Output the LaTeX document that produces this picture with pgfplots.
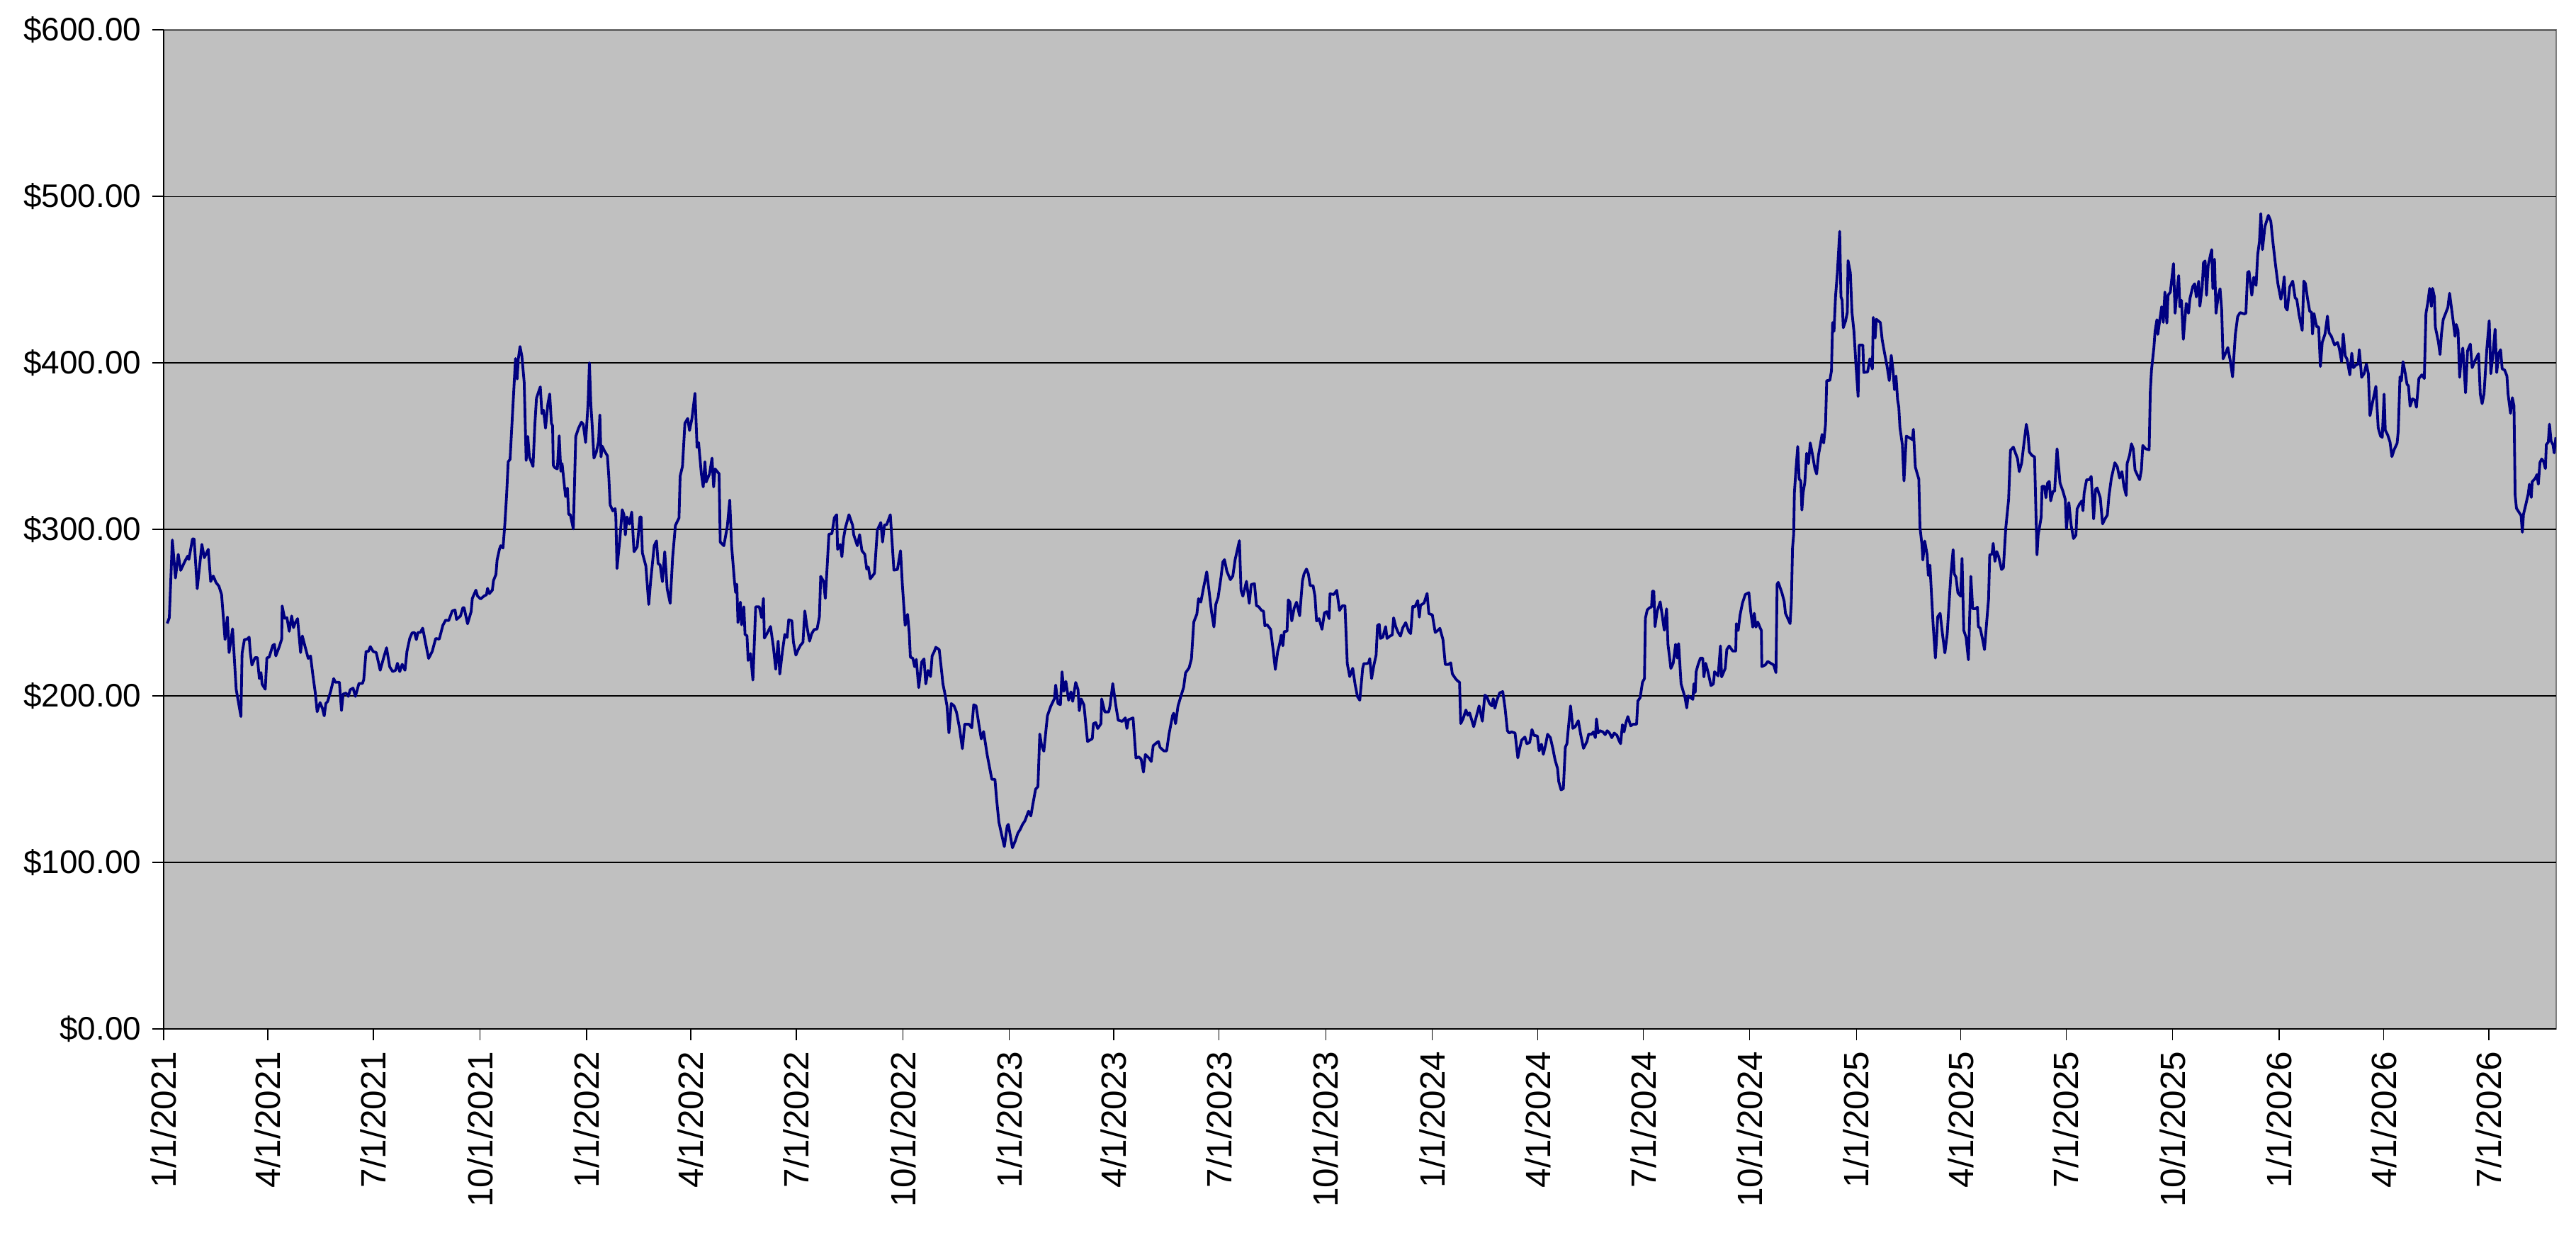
\documentclass[border=0pt]{standalone}
\usepackage{fontspec}
\setmainfont{Liberation Sans}
\usepackage{pgfplots}
\pgfplotsset{compat=1.18}
\definecolor{navyline}{RGB}{0,0,128}
\definecolor{plotbg}{RGB}{192,192,192}
\definecolor{framegray}{RGB}{128,128,128}
\begin{document}
\begin{tikzpicture}
\begin{axis}[
  at={(0,0)}, anchor=south west,
  scale only axis,
  width=750.44pt, height=313.33pt,
  xmin=0, xmax=2065, ymin=0, ymax=600,
  axis line style={draw=none},
  axis background/.style={fill=plotbg, draw=framegray, line width=0.6pt},
  ymajorgrids, grid style={black, line width=0.25pt},
  tick pos=left, tick align=outside, major tick length=3.5pt,
  tick style={black, line width=0.3pt},
  clip mode=individual,
  ytick={0,100,200,300,400,500,600},
  yticklabels={\$0.00,\$100.00,\$200.00,\$300.00,\$400.00,\$500.00,\$600.00},
  xtick={0,90,181,273,365,455,546,638,730,820,911,1003,1095,1186,1277,1369,1461,1551,1642,1734,1826,1916,2007},
  xticklabels={1/1/2021,4/1/2021,7/1/2021,10/1/2021,1/1/2022,4/1/2022,7/1/2022,10/1/2022,1/1/2023,4/1/2023,7/1/2023,10/1/2023,1/1/2024,4/1/2024,7/1/2024,10/1/2024,1/1/2025,4/1/2025,7/1/2025,10/1/2025,1/1/2026,4/1/2026,7/1/2026},
  xticklabel style={rotate=90, anchor=east, font=\fontsize{11}{13}\selectfont},
  yticklabel style={font=\fontsize{10.2}{12}\selectfont},
]
\addplot[navyline, line width=0.85pt, line join=round, mark=none] table[x=d,y=v] {
d v
3.1 243.5
4.9 247.0
7.5 293.6
10.2 270.8
12.6 285.0
14.7 275.4
18.8 281.5
20.8 284.0
21.8 282.0
24.9 294.3
26.3 294.3
29.0 264.4
33.0 291.0
35.1 283.0
38.5 288.0
40.6 268.7
42.8 272.0
45.3 268.0
47.7 265.9
50.0 260.9
53.0 233.9
55.0 247.4
56.5 226.0
59.5 240.3
62.6 204.0
66.7 187.6
67.7 225.5
69.7 233.8
72.2 234.1
73.8 235.3
74.8 226.0
76.2 218.5
78.9 223.0
80.9 223.0
82.6 210.4
84.0 214.0
85.0 207.0
87.7 204.0
89.1 222.8
91.1 223.3
94.2 230.3
95.6 231.0
96.8 224.0
99.9 229.7
101.9 234.1
102.3 254.0
104.4 246.6
106.4 247.0
108.4 238.8
110.5 248.0
112.1 241.0
113.5 243.8
115.6 246.4
118.2 226.0
119.7 236.0
122.3 229.0
124.8 222.5
126.8 224.0
128.8 212.5
130.9 201.8
132.5 190.5
135.0 196.0
137.0 192.6
138.6 188.0
140.0 195.5
141.5 196.6
144.1 202.6
146.8 210.4
148.2 208.2
151.7 208.2
153.5 191.2
154.9 201.1
157.4 201.7
159.4 199.7
161.0 203.7
163.5 204.7
165.5 199.7
168.6 207.5
171.6 207.5
172.7 209.7
174.7 226.7
176.7 226.7
178.4 229.6
180.8 226.7
183.5 226.0
186.9 215.4
190.0 223.2
192.4 228.9
195.1 217.5
197.7 214.6
200.2 215.4
201.8 219.6
203.8 214.6
205.9 219.0
208.3 215.4
210.0 226.7
212.4 234.5
214.4 237.8
216.5 238.1
218.1 233.8
219.5 238.1
221.6 238.1
223.6 240.7
226.3 231.0
228.7 222.5
231.8 226.7
234.8 234.5
237.9 234.1
241.0 242.4
243.4 245.5
246.0 245.2
249.1 251.0
251.5 251.6
252.8 245.9
256.2 248.0
258.3 253.0
259.3 253.0
262.3 243.3
265.4 250.6
266.4 258.5
269.5 263.5
270.9 260.0
273.5 258.2
276.6 260.0
278.6 260.7
279.6 264.6
281.1 261.4
283.7 263.5
284.7 269.3
286.8 272.9
287.8 281.6
289.8 288.0
290.9 290.2
292.9 288.8
294.5 303.2
296.0 320.5
297.4 340.6
299.0 342.1
301.0 368.0
303.7 402.6
305.1 390.3
306.1 402.3
307.6 409.8
309.2 404.0
311.2 388.2
312.9 341.4
314.3 355.8
315.7 343.5
318.8 337.8
320.4 363.0
321.8 378.8
325.1 385.6
326.5 369.5
327.9 371.6
329.6 360.8
331.6 375.2
333.2 381.3
334.7 363.7
335.7 362.2
336.3 338.5
337.7 337.0
339.8 336.3
341.4 356.2
342.8 334.9
343.9 339.5
345.9 326.2
346.9 319.7
348.5 324.8
349.6 308.9
351.0 308.9
353.6 300.3
355.7 355.8
358.1 360.8
360.6 364.4
362.2 363.0
364.2 352.2
366.3 375.2
367.5 400.0
368.7 375.2
369.9 362.2
371.4 342.8
373.4 346.3
375.4 352.9
376.5 368.7
377.5 343.5
378.5 350.0
380.5 347.1
383.0 344.2
384.2 332.0
385.4 314.7
387.7 311.1
389.7 312.5
390.3 307.5
391.3 276.5
393.8 294.5
395.8 311.8
397.3 308.9
398.5 296.7
399.9 307.5
402.0 303.2
404.0 310.4
406.0 286.6
408.7 289.5
411.1 307.5
412.1 307.5
413.2 285.9
416.2 278.0
418.7 254.9
420.3 268.6
423.4 290.2
425.4 293.1
426.8 279.4
428.5 278.7
430.5 268.6
432.5 286.6
434.6 264.3
437.2 255.6
439.3 283.0
441.7 302.4
444.8 306.8
445.8 332.0
447.8 337.8
449.9 363.7
452.3 366.6
453.9 359.4
456.0 366.6
458.6 381.7
460.4 349.3
461.7 352.2
464.1 333.4
465.7 325.5
467.2 340.6
468.2 328.4
471.2 333.4
473.3 342.8
474.7 325.5
475.9 336.3
479.4 333.4
480.4 292.4
483.5 290.2
486.5 301.7
488.6 317.6
490.2 290.2
492.7 268.6
493.7 262.1
494.7 267.1
495.7 244.1
497.8 256.3
498.8 242.7
500.8 253.5
501.8 236.9
503.5 236.1
504.5 221.3
506.5 225.4
508.6 209.5
511.0 253.5
514.1 253.5
516.1 247.0
517.7 258.5
518.5 234.7
521.2 238.0
523.8 241.7
526.3 229.2
528.3 216.0
530.4 232.9
531.8 213.1
534.0 226.3
536.1 236.9
538.1 235.1
539.5 245.7
542.2 245.1
543.6 232.2
545.7 224.5
547.7 227.8
549.7 230.4
551.8 232.2
553.4 251.0
555.2 241.7
557.5 232.9
559.3 237.3
561.4 239.8
564.0 240.2
566.0 247.6
567.1 271.8
569.5 268.9
571.1 258.6
572.8 279.1
574.2 297.1
576.8 297.5
578.9 307.0
580.9 308.8
581.7 288.0
584.0 290.9
585.4 283.6
586.8 294.6
588.5 301.2
591.5 308.8
594.6 302.6
595.6 296.8
598.7 290.2
600.7 296.8
602.7 287.2
605.2 285.0
606.8 276.2
608.2 277.4
609.9 270.3
613.5 273.6
616.0 299.7
619.0 304.1
620.5 292.4
622.1 302.6
624.1 302.9
627.2 308.8
630.3 275.5
633.3 275.9
636.0 287.2
637.6 266.7
640.0 242.4
642.1 249.0
643.5 238.0
644.5 223.3
646.6 222.6
648.2 217.5
649.6 221.9
651.7 205.0
654.3 220.4
656.3 222.2
657.8 207.2
659.8 215.3
661.9 211.6
663.3 224.1
664.9 226.3
666.5 229.2
669.4 227.8
671.4 215.3
672.6 207.2
674.1 202.1
676.1 194.0
677.8 177.8
679.8 195.4
682.2 194.0
684.3 190.3
686.9 180.8
689.4 168.3
691.4 183.0
695.1 183.0
697.5 180.8
699.2 194.7
701.2 194.0
703.6 183.0
705.7 174.2
707.7 178.6
710.8 164.6
712.8 157.3
714.8 149.9
717.5 149.9
718.9 138.2
720.9 124.2
723.0 117.6
725.6 109.5
728.1 122.0
729.1 122.8
732.6 108.8
735.2 113.2
737.3 117.6
739.3 119.8
741.3 122.8
743.4 125.0
746.5 130.8
748.5 127.9
750.1 134.5
752.6 144.0
754.6 145.5
756.2 177.1
757.7 170.5
759.7 166.8
762.8 188.1
765.8 194.0
768.9 198.4
769.9 206.5
771.9 195.4
774.0 194.7
775.4 214.5
777.0 202.8
778.7 208.7
781.1 197.4
783.1 202.4
784.6 196.7
787.2 208.1
789.2 203.8
790.3 191.1
791.9 198.2
794.3 194.6
797.4 172.6
801.5 174.3
802.5 183.3
804.5 184.0
806.2 180.4
809.0 183.3
809.6 198.2
812.3 190.4
815.7 190.4
816.8 193.9
819.2 207.4
821.9 193.9
823.9 185.4
827.4 184.7
830.0 186.8
831.4 180.4
832.7 185.7
836.7 186.8
839.2 162.7
841.6 163.4
843.7 162.0
845.7 154.2
847.3 164.8
850.4 162.7
852.4 160.6
854.1 170.1
857.1 171.9
858.6 172.6
860.0 169.1
863.2 167.0
865.7 167.0
867.7 176.9
870.8 188.2
871.8 189.6
873.4 183.3
875.5 193.9
877.9 199.6
880.4 205.2
882.0 213.8
885.1 216.9
887.1 222.3
889.1 244.3
891.8 249.2
893.2 258.4
895.2 256.3
897.3 264.1
900.3 274.5
902.0 264.8
904.4 250.6
906.5 241.4
908.1 254.9
910.1 259.1
912.6 271.2
914.2 280.4
915.6 281.8
917.7 274.8
920.7 269.8
922.8 272.0
924.8 281.8
928.5 293.2
929.9 263.4
931.5 259.9
934.6 268.8
937.0 255.6
938.7 266.9
941.5 267.4
943.2 254.2
945.2 253.5
947.6 251.3
949.3 250.9
950.5 242.1
952.3 242.8
955.4 240.0
957.8 226.5
959.5 215.9
961.5 226.5
963.1 230.8
964.6 236.5
966.0 230.1
967.2 238.6
969.6 238.9
970.7 257.7
972.1 256.3
973.7 245.0
975.8 252.8
977.8 256.3
980.5 248.1
982.9 269.1
984.3 273.3
986.4 276.2
988.0 273.3
989.6 266.2
992.1 266.2
993.7 259.9
995.1 245.0
997.2 246.4
999.8 240.0
1001.9 249.9
1003.9 250.6
1005.9 246.4
1006.7 261.3
1010.0 260.9
1012.5 263.4
1014.9 251.3
1017.5 254.2
1019.6 254.2
1021.6 219.4
1023.7 211.6
1026.3 216.6
1028.4 206.7
1030.4 199.6
1032.4 197.4
1034.9 216.6
1035.9 219.4
1038.5 219.4
1040.0 219.9
1041.0 222.4
1042.6 210.4
1044.5 218.2
1046.5 224.6
1047.7 242.3
1049.2 243.0
1050.2 234.5
1052.2 235.2
1054.7 241.6
1055.9 234.5
1058.3 235.9
1060.4 236.6
1061.6 246.9
1063.4 241.6
1065.5 238.1
1067.5 235.9
1069.5 240.9
1072.0 244.0
1074.6 238.8
1076.3 237.4
1078.1 253.7
1079.9 253.4
1082.4 257.2
1083.8 247.3
1084.8 254.4
1087.9 255.8
1090.5 261.5
1092.0 249.4
1095.0 248.7
1097.5 238.1
1100.1 239.5
1101.5 240.6
1104.2 233.8
1106.2 218.9
1108.9 218.9
1110.9 219.9
1112.3 213.2
1115.0 210.4
1117.0 208.9
1118.5 208.2
1119.5 183.4
1121.5 186.2
1124.0 191.5
1125.6 188.4
1127.2 189.8
1130.7 181.5
1133.3 188.4
1135.4 194.0
1138.2 184.8
1140.3 200.4
1141.9 199.7
1144.3 195.5
1146.4 194.0
1147.6 198.3
1149.0 192.6
1150.5 196.9
1153.1 201.8
1155.8 202.6
1157.8 192.6
1159.8 179.1
1161.3 177.7
1163.3 178.4
1166.4 177.7
1168.8 162.8
1170.4 168.5
1172.1 173.4
1174.9 175.3
1176.6 171.3
1179.0 172.0
1181.0 179.8
1182.7 176.3
1185.7 175.9
1187.2 167.0
1189.2 171.0
1190.8 164.9
1192.9 171.0
1194.5 177.0
1196.9 174.9
1199.0 168.5
1201.0 161.4
1203.1 156.4
1204.1 148.6
1206.1 143.6
1208.1 144.3
1209.8 169.2
1211.2 171.3
1212.8 183.4
1214.3 194.0
1216.3 180.5
1218.3 181.5
1221.0 185.1
1223.0 177.0
1225.5 168.5
1228.5 172.7
1229.9 177.0
1232.6 177.0
1234.0 178.4
1235.7 174.9
1236.7 186.2
1238.1 177.7
1239.7 179.1
1242.2 178.4
1244.2 176.7
1245.9 179.1
1247.9 177.7
1249.9 174.9
1252.0 177.7
1254.4 176.3
1256.0 173.4
1257.5 171.3
1259.1 182.7
1260.5 178.4
1262.2 184.1
1263.8 187.6
1266.2 182.0
1268.3 183.0
1271.3 183.0
1272.4 196.9
1274.4 199.0
1276.4 208.2
1278.1 210.4
1278.9 246.6
1280.5 251.6
1282.6 253.0
1284.2 253.4
1285.0 262.9
1286.2 262.9
1287.2 241.6
1289.1 250.9
1291.7 256.5
1293.2 249.4
1295.2 239.5
1297.2 252.3
1298.4 231.0
1300.9 216.5
1302.9 219.6
1305.0 231.0
1306.4 222.7
1307.6 231.4
1309.7 207.2
1313.1 199.0
1314.6 192.8
1315.8 200.0
1317.8 199.0
1319.9 197.9
1320.7 207.2
1321.9 202.1
1322.7 214.5
1324.3 218.6
1326.4 222.7
1328.4 222.7
1329.4 211.4
1330.9 219.6
1332.9 214.5
1335.5 206.2
1337.6 207.2
1338.6 214.5
1341.7 212.0
1343.7 230.0
1344.7 211.4
1347.8 216.5
1349.2 227.9
1351.2 230.0
1354.3 226.9
1356.9 226.9
1357.4 243.4
1359.0 239.3
1360.6 248.5
1362.7 255.8
1365.1 260.9
1368.2 262.0
1369.8 250.6
1371.6 241.3
1372.9 249.6
1374.3 241.3
1375.9 244.4
1377.7 241.3
1379.0 239.3
1379.4 217.6
1382.4 218.6
1384.5 220.7
1387.1 219.6
1389.6 218.6
1391.6 214.0
1392.6 267.1
1393.6 268.2
1396.7 262.0
1398.7 256.8
1399.8 249.6
1401.8 246.5
1403.8 243.4
1404.9 256.8
1405.9 288.8
1406.9 297.1
1407.5 321.9
1408.9 336.4
1410.4 349.8
1411.6 330.2
1413.0 329.1
1414.0 311.6
1415.0 321.9
1416.5 328.1
1418.1 345.7
1419.7 339.5
1421.2 351.9
1423.2 344.6
1425.2 336.4
1426.7 333.3
1428.3 344.6
1429.9 350.8
1431.4 357.0
1432.8 351.9
1434.4 363.2
1435.4 389.3
1438.1 389.5
1439.5 395.2
1440.5 424.2
1441.7 419.0
1443.0 439.7
1444.6 454.1
1446.6 478.9
1447.7 439.7
1448.7 437.6
1449.7 421.1
1451.7 425.2
1453.2 430.4
1453.8 461.4
1455.8 454.1
1457.2 430.4
1458.9 419.0
1460.5 400.4
1462.5 379.8
1463.4 410.7
1466.6 410.7
1467.4 394.2
1470.7 394.6
1472.7 402.5
1474.8 396.3
1475.6 427.3
1477.2 414.9
1478.2 426.2
1481.7 424.2
1483.3 413.8
1485.4 405.6
1487.4 398.3
1489.4 389.3
1491.1 404.5
1492.5 396.3
1493.9 383.9
1495.2 392.1
1496.6 377.7
1497.6 373.6
1498.6 361.2
1500.7 350.8
1502.1 329.1
1504.1 356.0
1506.8 355.0
1509.4 353.9
1510.2 360.1
1511.9 337.4
1514.9 330.2
1515.9 301.2
1517.6 290.9
1518.4 281.6
1520.0 293.0
1522.1 284.7
1523.1 272.3
1524.5 278.5
1525.7 263.0
1527.2 243.4
1529.2 222.7
1530.2 234.1
1531.2 247.5
1533.3 249.6
1535.3 237.2
1537.4 225.8
1539.4 237.2
1542.5 272.3
1544.5 287.8
1545.5 273.3
1547.0 271.3
1548.6 261.9
1551.0 259.9
1552.2 282.6
1553.7 239.3
1555.7 235.1
1557.7 221.7
1559.8 271.8
1561.4 252.4
1563.9 252.4
1565.5 253.3
1566.3 241.6
1567.9 240.6
1570.0 233.7
1571.6 227.8
1573.6 245.5
1575.1 258.2
1576.1 284.7
1578.1 285.1
1579.1 291.6
1580.6 280.8
1582.2 286.7
1583.8 283.7
1586.3 275.9
1587.9 276.9
1589.9 300.4
1592.4 318.0
1594.0 347.5
1596.5 349.4
1598.5 345.5
1600.1 342.5
1601.6 334.7
1603.6 339.6
1605.6 351.4
1607.7 363.1
1609.1 357.3
1610.3 346.5
1612.4 344.5
1614.8 343.5
1616.9 284.7
1617.9 296.5
1620.5 307.3
1621.3 325.9
1623.4 325.9
1624.6 319.0
1626.0 327.8
1627.5 328.8
1628.7 317.1
1630.7 322.9
1632.1 322.9
1634.2 348.4
1636.8 327.8
1639.3 322.9
1641.3 318.0
1642.3 300.4
1644.4 316.1
1646.4 302.4
1648.4 294.5
1650.5 296.5
1651.5 312.2
1653.5 315.1
1655.6 317.1
1656.6 311.2
1657.6 321.9
1659.7 329.8
1662.1 329.8
1663.7 331.8
1665.8 306.3
1667.4 323.9
1668.8 324.9
1671.5 319.0
1673.5 303.3
1675.6 306.3
1677.6 308.6
1679.0 320.0
1681.1 330.8
1684.1 340.0
1686.2 337.6
1688.2 330.8
1690.2 334.7
1691.9 325.9
1693.9 320.4
1694.7 339.6
1696.8 344.5
1698.4 351.4
1700.0 348.4
1701.5 335.7
1703.5 332.7
1705.5 329.8
1707.0 335.7
1708.2 350.4
1710.6 348.4
1713.7 347.8
1714.7 382.7
1715.7 395.5
1717.8 409.2
1718.8 419.0
1720.4 425.9
1721.2 417.1
1722.9 425.9
1724.5 433.7
1725.9 424.3
1727.3 442.5
1729.0 423.9
1730.0 440.6
1732.0 442.5
1734.7 459.6
1736.1 429.8
1737.5 441.6
1739.2 452.4
1740.2 433.7
1741.6 437.6
1743.2 414.1
1745.7 435.7
1747.7 429.8
1748.9 438.6
1751.4 445.9
1753.0 447.5
1754.4 439.6
1756.5 449.0
1757.5 434.1
1759.5 445.5
1760.6 460.2
1762.0 461.2
1763.2 440.6
1764.6 458.2
1766.7 465.1
1767.7 468.0
1768.7 444.5
1770.1 462.2
1771.4 429.8
1773.4 440.6
1774.9 444.5
1776.3 431.8
1777.5 402.4
1780.0 406.3
1781.6 409.2
1783.7 401.4
1785.7 391.6
1788.1 417.1
1790.1 427.8
1792.2 430.2
1795.8 429.4
1797.2 429.8
1798.7 454.3
1799.9 454.9
1802.3 440.6
1804.0 451.4
1806.0 446.5
1807.4 465.1
1808.9 472.9
1810.1 489.6
1811.5 468.0
1813.6 481.8
1816.6 488.6
1818.7 485.1
1820.7 471.4
1822.7 459.2
1824.8 447.6
1827.4 438.2
1828.9 443.3
1830.3 451.7
1831.5 433.2
1832.9 431.7
1835.0 445.5
1837.6 449.1
1839.7 439.0
1841.1 438.2
1843.1 428.9
1845.8 419.5
1847.2 449.1
1848.6 447.6
1850.3 439.0
1852.3 431.0
1853.9 430.3
1854.7 417.3
1856.0 429.6
1857.4 424.5
1858.4 421.6
1860.0 421.6
1861.5 397.8
1863.1 412.3
1865.5 417.3
1867.6 428.1
1869.0 418.0
1871.0 415.9
1873.7 410.8
1876.3 412.3
1877.8 408.7
1879.8 400.7
1881.2 417.3
1882.9 404.3
1884.5 402.2
1886.9 392.8
1888.6 405.8
1890.0 397.1
1892.0 398.6
1894.1 399.3
1895.1 407.9
1897.1 391.3
1899.2 393.5
1901.2 399.3
1902.9 393.5
1904.3 368.3
1906.3 375.5
1909.4 385.9
1911.4 361.0
1913.4 356.0
1914.9 355.3
1916.5 381.2
1917.5 359.6
1919.6 356.7
1921.6 352.4
1923.2 343.7
1925.3 348.1
1927.7 351.7
1928.7 358.9
1930.2 391.6
1931.4 389.2
1932.8 400.7
1934.8 393.5
1936.3 387.0
1937.5 386.3
1938.9 374.0
1941.0 378.4
1943.0 377.6
1944.4 373.3
1946.5 390.6
1949.1 392.8
1951.2 390.6
1952.6 429.6
1954.2 436.1
1955.8 444.7
1957.3 433.9
1958.3 444.7
1959.9 439.7
1960.7 421.6
1963.4 412.3
1964.8 405.0
1966.0 417.3
1967.5 426.0
1969.5 429.6
1971.5 433.2
1973.0 441.8
1974.6 433.2
1976.2 424.5
1977.7 415.9
1978.7 423.1
1980.3 419.5
1981.7 391.3
1982.8 401.4
1984.4 408.9
1985.2 400.7
1986.8 382.0
1988.5 407.2
1990.9 411.3
1992.5 397.1
1995.0 401.4
1998.0 405.5
1999.5 381.2
2001.1 375.5
2002.7 381.2
2005.2 408.7
2007.2 425.3
2008.6 393.5
2010.3 404.3
2012.3 420.2
2013.7 394.2
2015.4 405.8
2017.0 407.9
2018.4 396.4
2020.5 395.7
2022.5 392.1
2023.5 381.2
2025.6 369.7
2027.2 379.1
2028.6 374.0
2029.6 320.6
2030.7 312.7
2032.7 310.5
2034.7 308.4
2035.8 298.3
2036.8 309.1
2038.8 314.9
2040.9 321.4
2041.9 327.1
2043.5 319.2
2044.3 328.6
2047.0 330.7
2048.4 332.9
2049.6 327.1
2051.0 340.1
2052.5 342.3
2054.1 340.8
2055.7 336.5
2056.5 350.9
2058.2 352.4
2059.2 363.2
2060.6 353.1
2062.2 350.9
2063.3 345.9
2064.7 355.3
};
\draw[black, line width=0.6pt] (rel axis cs:0,1) -- (rel axis cs:0,0) -- (rel axis cs:1,0);
\end{axis}
\pgfresetboundingbox
\path[use as bounding box] (-51.33pt,-63.78pt) rectangle (756.67pt,322.67pt);
\end{tikzpicture}
\end{document}
